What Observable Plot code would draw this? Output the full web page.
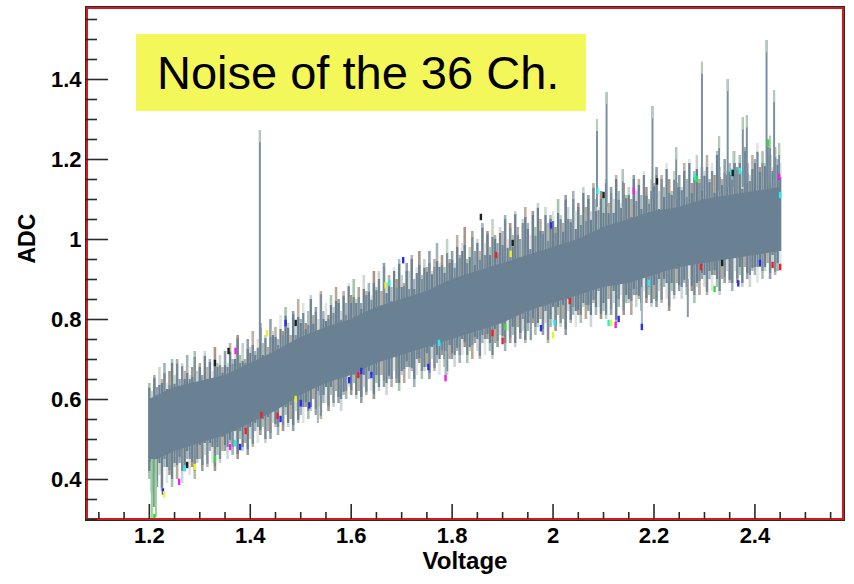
<!DOCTYPE html>
<html><head><meta charset="utf-8">
<script src="https://cdn.jsdelivr.net/npm/d3@7"></script>
<script src="https://cdn.jsdelivr.net/npm/@observablehq/plot@0.6"></script>
<style>
html,body{margin:0;padding:0;background:#fff;}
#wrap{position:relative;width:854px;height:584px;overflow:hidden;}
#title{position:absolute;left:136px;top:34px;width:450px;height:77px;background:#f4f75a;font-family:"Liberation Sans",Arial,sans-serif;font-size:47px;line-height:78px;padding-left:21px;box-sizing:border-box;color:#000;white-space:nowrap;}
</style></head><body><div id="wrap"><div id="chart"></div><div id="title">Noise of the 36 Ch.</div></div>
<script>
// ---- data ----
const xMajorTicks = [1.2, 1.4, 1.6, 1.8, 2, 2.2, 2.4];
const xMinorTicks = [1.1, 1.15, 1.25, 1.3, 1.35, 1.45, 1.5, 1.55, 1.65, 1.7, 1.75, 1.85, 1.9, 1.95, 2.05, 2.1, 2.15, 2.25, 2.3, 2.35, 2.45, 2.5, 2.55];
const yMajorTicks = [0.4, 0.6, 0.8, 1, 1.2, 1.4];
const yMinorTicks = [0.3, 0.35, 0.45, 0.5, 0.55, 0.65, 0.7, 0.75, 0.85, 0.9, 0.95, 1.05, 1.1, 1.15, 1.25, 1.3, 1.35, 1.45, 1.5, 1.55];

// dense core of the 36 channels
const coreVoltage = [1.20,1.25,1.30,1.35,1.40,1.45,1.50,1.55,1.60,1.65,1.70,1.75,1.80,1.85,1.90,1.95,2.00,2.05,2.10,2.15,2.20,2.25,2.30,2.35,2.40,2.45];
const coreLow  = [0.44,0.47,0.49,0.51,0.54,0.57,0.61,0.64,0.66,0.69,0.71,0.73,0.75,0.77,0.79,0.82,0.84,0.86,0.88,0.89,0.91,0.93,0.94,0.95,0.96,0.97];
const coreHigh = [0.60,0.63,0.645,0.66,0.69,0.72,0.755,0.78,0.80,0.83,0.85,0.87,0.90,0.92,0.94,0.96,0.98,1.00,1.03,1.05,1.07,1.08,1.10,1.11,1.12,1.13];

// per-sample noise extremes (samples every 5 mV from 1.200 V to 2.450 V)
const sampleStart = 1.2, sampleStep = 0.005;
const noiseHigh = [
0.64,0.62,0.66,0.63,0.68,0.65,0.69,0.64,0.67,0.70,
0.66,0.70,0.65,0.69,0.67,0.71,0.66,0.68,0.72,0.67,
0.69,0.66,0.72,0.68,0.70,0.67,0.73,0.69,0.71,0.68,
0.72,0.69,0.74,0.70,0.73,0.76,0.71,0.74,0.70,0.75,
0.73,0.77,0.72,0.75,0.79,0.74,0.76,0.73,0.80,0.77,
0.78,0.75,0.81,0.77,0.83,0.79,0.76,0.82,0.78,0.85,
0.80,0.84,0.79,0.82,0.86,0.81,0.83,0.80,0.87,0.82,
0.84,0.81,0.86,0.83,0.88,0.85,0.82,0.87,0.84,0.89,
0.86,0.90,0.85,0.88,0.84,0.91,0.87,0.89,0.86,0.92,
0.88,0.92,0.87,0.94,0.89,0.91,0.88,0.93,0.90,0.95,
0.91,0.89,0.94,0.92,0.96,0.90,0.93,0.97,0.91,0.95,
0.93,0.97,0.92,0.95,0.99,0.94,0.96,0.93,1.00,0.95,
0.97,0.94,1.01,0.96,0.99,1.03,0.95,0.98,1.02,0.97,
1.00,0.97,1.04,0.99,1.02,0.98,1.05,1.01,0.99,1.03,
1.02,1.06,1.00,1.04,1.01,1.07,1.03,1.00,1.05,1.08,
1.04,1.01,1.07,1.03,1.09,1.05,1.02,1.08,1.04,1.06,
1.07,1.03,1.10,1.06,1.04,1.11,1.08,1.05,1.12,1.07,
1.09,1.06,1.13,1.08,1.11,1.07,1.14,1.10,1.08,1.12,
1.11,1.15,1.09,1.13,1.10,1.16,1.12,1.09,1.14,1.11,
1.13,1.10,1.16,1.12,1.15,1.11,1.17,1.13,1.10,1.15,
1.14,1.18,1.12,1.16,1.13,1.19,1.15,1.12,1.17,1.14,
1.16,1.13,1.19,1.15,1.20,1.14,1.17,1.21,1.15,1.18,
1.17,1.21,1.15,1.19,1.16,1.22,1.18,1.15,1.20,1.17,
1.19,1.16,1.22,1.18,1.21,1.17,1.23,1.19,1.16,1.21,
1.20,1.24,1.18,1.22,1.19,1.25,1.21,1.18,1.23,1.20,
1.19];
const noiseLow = [
0.40,0.36,0.42,0.38,0.41,0.37,0.43,0.39,0.41,0.38,
0.43,0.40,0.44,0.39,0.42,0.45,0.41,0.43,0.40,0.44,
0.45,0.42,0.46,0.43,0.47,0.44,0.42,0.46,0.44,0.47,
0.47,0.45,0.49,0.46,0.48,0.45,0.50,0.47,0.49,0.46,
0.50,0.48,0.52,0.49,0.51,0.53,0.49,0.52,0.50,0.54,
0.53,0.51,0.55,0.52,0.56,0.53,0.55,0.52,0.57,0.54,
0.56,0.54,0.58,0.55,0.57,0.60,0.56,0.58,0.55,0.59,
0.59,0.57,0.61,0.58,0.62,0.59,0.57,0.61,0.60,0.63,
0.61,0.64,0.60,0.62,0.59,0.63,0.61,0.65,0.62,0.60,
0.64,0.62,0.66,0.63,0.61,0.65,0.63,0.67,0.64,0.62,
0.66,0.64,0.68,0.65,0.67,0.63,0.66,0.69,0.65,0.67,
0.68,0.65,0.70,0.67,0.69,0.66,0.71,0.68,0.66,0.70,
0.70,0.68,0.72,0.69,0.71,0.73,0.69,0.72,0.70,0.74,
0.72,0.70,0.74,0.71,0.75,0.72,0.70,0.74,0.73,0.76,
0.75,0.72,0.77,0.74,0.76,0.73,0.78,0.75,0.77,0.74,
0.77,0.75,0.79,0.76,0.78,0.80,0.76,0.79,0.74,0.78,
0.79,0.77,0.81,0.78,0.80,0.76,0.82,0.79,0.81,0.78,
0.81,0.79,0.83,0.80,0.82,0.78,0.84,0.81,0.83,0.80,
0.82,0.80,0.85,0.81,0.84,0.79,0.83,0.86,0.81,0.84,
0.84,0.81,0.86,0.83,0.85,0.82,0.87,0.84,0.86,0.83,
0.85,0.83,0.87,0.84,0.88,0.85,0.82,0.87,0.85,0.89,
0.87,0.85,0.89,0.86,0.90,0.87,0.84,0.88,0.86,0.90,
0.88,0.86,0.90,0.87,0.91,0.88,0.86,0.90,0.89,0.92,
0.89,0.87,0.92,0.89,0.91,0.88,0.93,0.90,0.88,0.92,
0.91,0.89,0.93,0.90,0.92,0.94,0.90,0.93,0.91,0.92,
0.93];

// isolated tall spikes: voltage, top, base
const spikeVoltage = [1.419,2.087,2.106,2.138,2.197,2.244,2.295,2.329,2.346,2.358,2.376,2.384,2.423,2.430,2.438,2.448];
const spikeTop     = [1.272,1.300,1.367,1.174,1.332,1.229,1.443,1.257,1.400,1.220,1.304,1.309,1.497,1.258,1.372,1.240];
const spikeBase    = [0.74,1.08,1.08,1.08,1.10,1.10,1.12,1.12,1.13,1.13,1.13,1.14,1.14,1.14,1.15,1.15];

// downward spikes: voltage, bottom, base, channel
const dipVoltage = [1.205,1.209,1.213,1.534,1.787,1.956,2.176,2.267];
const dipBottom  = [0.300,0.330,0.305,0.540,0.652,0.747,0.775,0.805];
const dipBase    = [0.45,0.45,0.45,0.62,0.72,0.82,0.88,0.90];
const dipChannel = [3,9,3,6,6,9,4,9];

// coloured channel marks at the band edges: voltage, ADC, channel (ROOT colour index)
const spotVoltage = [1.371,1.357,1.33,1.433,1.47,1.49,1.422,1.454,1.46,1.391,1.259,1.27,1.29,1.275,1.227,1.229,1.21,1.38,1.36,1.33,1.37,1.49,1.5,
1.703,1.614,1.596,1.62,1.64,1.668,1.675,1.753,1.774,1.787,1.517,
1.857,1.887,1.916,1.92,1.996,2.088,2.1,1.88,1.9,1.905,1.976,2.0,2.003,2.033,2.124,2.13,2.115,2.11,
2.281,2.285,2.206,2.16,2.353,2.356,2.37,2.426,2.293,2.335,2.367,2.32,2.176,2.19,2.448,2.435,2.41,2.45,2.45];
const spotADC = [0.72,0.72,0.69,0.764,0.79,0.79,0.56,0.558,0.55,0.52,0.393,0.427,0.43,0.435,0.369,0.362,0.305,0.48,0.48,0.45,0.49,0.60,0.59,
0.947,0.66,0.647,0.67,0.66,0.884,0.89,0.68,0.74,0.652,0.584,
1.055,0.96,0.963,0.99,1.034,1.12,1.11,0.765,0.745,0.78,0.777,0.76,0.79,0.845,0.785,0.80,0.79,0.79,
1.155,1.15,1.144,1.12,1.168,1.165,1.17,1.24,0.93,0.94,0.889,0.875,0.78,0.89,1.155,0.935,0.94,0.93,1.11];
const spotChannel = [6,1,1,5,4,1,2,2,4,2,6,7,5,1,4,5,3,4,6,3,7,5,4,
4,2,4,4,4,5,7,4,7,6,4,
1,2,5,1,4,7,1,2,2,3,4,5,7,2,6,4,5,7,
7,3,1,6,7,1,7,3,2,1,4,3,4,7,6,2,4,2,7];

// ---- build tables ----
const core = coreVoltage.map((v, i) => ({v, lo: coreLow[i], hi: coreHigh[i]}));
const samples = noiseHigh.map((hi, i) => ({v: sampleStart + i * sampleStep, hi, lo: noiseLow[i], i}));
const spikes = spikeVoltage.map((v, i) => ({v, top: spikeTop[i], base: spikeBase[i]}));
const dips = dipVoltage.map((v, i) => ({v, bottom: dipBottom[i], base: dipBase[i], ch: dipChannel[i]}));
const spots = spotVoltage.map((v, i) => ({v, y: spotADC[i], ch: spotChannel[i]}));

// styles
const tipPalette = ["#a5c4af","#b8a898","#cdd6d4","#9fb4bd","#a99585","#c4d2c8","#8fa1ab","#bfb2a4","#dfe4e2"];
const slatePalette = ["#6a8193","#73889a","#6a8193","#7d8f9b","#6a8193"];
const tipHigh = [0.012, 0.03, 0.008, 0.02, 0.045, 0.01, 0.025, 0.015, 0.035, 0.01, 0.022];
const tipLow  = [0.02, 0.01, 0.035, 0.015, 0.03, 0.008, 0.02, 0.04, 0.012];
const rootColor = {1:"#1e1e1e",2:"#ee2222",3:"#3ad83a",4:"#2a2af5",5:"#eef020",6:"#f020f0",7:"#20eef0",9:"#8e9aa4"};
const font = '"Liberation Sans", Arial, Helvetica, sans-serif';
const tickStroke = "#2a2a2a";

const chart = Plot.plot({
  width: 854, height: 584,
  marginLeft: 86, marginRight: 11, marginTop: 7, marginBottom: 65,
  x: {domain: [1.0755, 2.5755]},
  y: {domain: [0.3, 1.58]},
  style: {fontFamily: font, background: "#fff", color: "#000"},
  marks: [
    // fringe of the individual channels: pale tips ...
    Plot.ruleX(samples, {x: "v", y1: "lo", y2: "hi", stroke: d => tipPalette[(d.i * 5) % tipPalette.length], strokeWidth: 2.6}),
    // ... and their slate bodies
    Plot.ruleX(samples, {x: "v", y1: d => d.lo + tipLow[d.i % tipLow.length], y2: d => d.hi - tipHigh[d.i % tipHigh.length], stroke: d => slatePalette[d.i % slatePalette.length], strokeWidth: 2.2}),
    // dense core
    Plot.areaY(core, {x: "v", y1: "lo", y2: "hi", fill: "#6a8193"}),
    // tall spikes
    Plot.ruleX(spikes, {x: "v", y1: "base", y2: "top", stroke: "#7890a1", strokeWidth: 2}),
    Plot.ruleX(spikes, {x: "v", y1: d => d.top - 0.03, y2: "top", stroke: "#b6cdb8", strokeWidth: 2}),
    // downward spikes
    Plot.ruleX(dips, {x: "v", y1: "bottom", y2: "base", stroke: d => d.ch === 3 ? "#8fd88f" : d.ch === 9 ? "#8a98a2" : "#a6b6bd", strokeWidth: 2}),
    // coloured channel marks
    Plot.ruleX(spots, {x: "v", y1: d => d.y - 0.008, y2: d => d.y + 0.008, stroke: d => rootColor[d.ch], strokeWidth: 2.4}),
    // frame
    Plot.frame({stroke: "#2a2a2a", strokeWidth: 1, inset: -1}),
    Plot.frame({stroke: "#d61a1a", strokeWidth: 2, inset: 0.5}),
    // ticks (inside the frame, ROOT style)
    Plot.axisY(yMajorTicks, {tickSize: 22, dx: 22, tickFormat: () => "", label: null, stroke: tickStroke, strokeWidth: 1.6}),
    Plot.axisY(yMinorTicks, {tickSize: 11, dx: 11, tickFormat: () => "", label: null, stroke: tickStroke, strokeWidth: 1.6}),
    Plot.axisX(xMajorTicks, {tickSize: 15, dy: -15, tickFormat: () => "", label: null, stroke: tickStroke, strokeWidth: 1.6}),
    Plot.axisX(xMinorTicks, {tickSize: 7, dy: -7, tickFormat: () => "", label: null, stroke: tickStroke, strokeWidth: 1.6}),
    // tick labels
    Plot.axisY(yMajorTicks, {tickSize: 0, tickPadding: 5, tickFormat: d => String(d), label: null, fontSize: 22, fontWeight: "bold", fill: "#000"}),
    Plot.axisX(xMajorTicks, {tickSize: 0, tickPadding: 8, tickFormat: d => String(d), label: null, fontSize: 22, fontWeight: "bold", fill: "#000"}),
    // axis titles
    Plot.text(["Voltage"], {frameAnchor: "bottom", dy: 49, text: d => d, fontSize: 24, fontWeight: "bold", fill: "#000"}),
    Plot.text(["ADC"], {frameAnchor: "left", dx: -59, rotate: -90, text: d => d, fontSize: 23, fontWeight: "bold", fill: "#000"})
  ]
});
document.getElementById("chart").appendChild(chart);
</script>
</body></html>
